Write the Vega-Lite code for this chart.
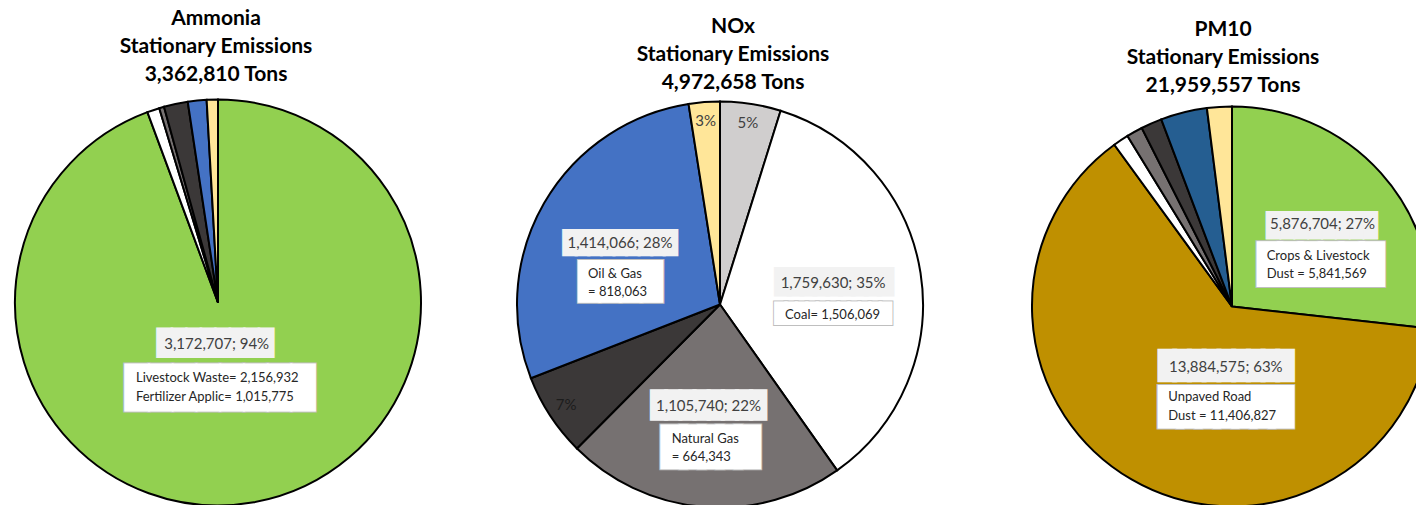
{
"$schema":"https://vega.github.io/schema/vega-lite/v6.json",
"padding":{"left":0,"top":7,"right":0,"bottom":0},
"background":"white",
"spacing":0,
"resolve":{"scale":{"theta":"independent","color":"independent"}},
"config":{"view":{"stroke":null},"title":{"font":"Lato","fontWeight":"bold","fontSize":21,"lineHeight":28,"color":"#000000","anchor":"middle"},"text":{"font":"Lato"}},
"datasets":{
"ammonia":[
{"i":1,"part":"Agriculture","value":3172707,"label":"3,172,707; 94%","desc":"Livestock Waste= 2,156,932\nFertilizer Applic= 1,015,775"},
{"i":2,"part":"Other A","value":33000},
{"i":3,"part":"Other B","value":13000},
{"i":4,"part":"Other C","value":64000},
{"i":5,"part":"Other D","value":50103},
{"i":6,"part":"Other E","value":30000}
],
"nox":[
{"i":1,"part":"Other A","value":240000,"pct":"5%"},
{"i":2,"part":"Coal","value":1759630,"label":"1,759,630; 35%","desc":"Coal= 1,506,069"},
{"i":3,"part":"Natural Gas","value":1105740,"label":"1,105,740; 22%","desc":"Natural Gas\n= 664,343"},
{"i":4,"part":"Other B","value":330000,"pct":"7%"},
{"i":5,"part":"Oil & Gas","value":1414066,"label":"1,414,066; 28%","desc":"Oil & Gas\n= 818,063"},
{"i":6,"part":"Other C","value":123222,"pct":"3%"}
],
"pm10":[
{"i":1,"part":"Crops & Livestock","value":5876704,"label":"5,876,704; 27%","desc":"Crops & Livestock\nDust = 5,841,569"},
{"i":2,"part":"Unpaved Road","value":13884575,"label":"13,884,575; 63%","desc":"Unpaved Road\nDust = 11,406,827"},
{"i":3,"part":"Other A","value":277278},
{"i":4,"part":"Other B","value":285000},
{"i":5,"part":"Other C","value":373000},
{"i":6,"part":"Other D","value":823000},
{"i":7,"part":"Other E","value":440000}
]
},
"hconcat":[
{
"width":436,"height":399,
"title":{"text":["Ammonia","Stationary Emissions","3,362,810 Tons"],"offset":10.7,"dx":-2},
"data":{"name":"ammonia"},
"encoding":{"theta":{"field":"value","type":"quantitative","stack":true},"order":{"field":"i","type":"quantitative"},"detail":{"field":"part","type":"nominal"}},
"layer":[
{"mark":{"type":"arc","outerRadius":203,"stroke":"#000000","strokeWidth":2},
 "encoding":{"color":{"field":"part","type":"nominal","legend":null,"scale":{"domain":["Agriculture","Other A","Other B","Other C","Other D","Other E"],"range":["#92d050","#ffffff","#767171","#3b3838","#4472c4","#ffe699"]}}}},
{"mark":{"type":"text","radius":40.6,"dx":-10,"dy":1.8,"font":"DejaVu Sans Mono","fontSize":24.1,"align":"center","baseline":"middle","fill":"#f2f2f2","stroke":"#f2f2f2","strokeWidth":1.95,"strokeJoin":"miter"},
 "encoding":{"text":{"condition":{"test":"datum.i === 1","value":"████████"},"value":""}}},
{"mark":{"type":"text","radius":40.6,"dx":-5,"dy":46.8,"font":"DejaVu Sans Mono","fontSize":39.43,"align":"center","baseline":"middle","fill":"#ffffff","stroke":"#bfbfbf","strokeWidth":3.1,"strokeJoin":"miter"},
 "encoding":{"text":{"condition":{"test":"datum.i === 1","value":"████████"},"value":""}}},
{"mark":{"type":"text","radius":40.6,"dx":-5,"dy":46.8,"font":"DejaVu Sans Mono","fontSize":39.43,"align":"center","baseline":"middle","fill":"#ffffff","stroke":"#ffffff","strokeWidth":1.1,"strokeJoin":"miter"},
 "encoding":{"text":{"condition":{"test":"datum.i === 1","value":"████████"},"value":""}}},
{"mark":{"type":"text","radius":40.6,"dx":-8.5,"dy":1.5,"fontSize":15,"align":"center","baseline":"middle","fill":"#404040"},
 "encoding":{"text":{"condition":{"test":"datum.i === 1","field":"label"},"value":""}}},
{"mark":{"type":"text","radius":40.6,"dx":-89.2,"dy":35.6,"fontSize":13,"lineHeight":18.5,"lineBreak":"\n","align":"left","baseline":"middle","fill":"#262626"},
 "encoding":{"text":{"condition":{"test":"datum.i === 1","field":"desc"},"value":""}}}
]
},
{
"width":568,"height":403,
"title":{"text":["NOx","Stationary Emissions","4,972,658 Tons"],"offset":5,"dx":13},
"data":{"name":"nox"},
"encoding":{"theta":{"field":"value","type":"quantitative","stack":true},"order":{"field":"i","type":"quantitative"},"detail":{"field":"part","type":"nominal"}},
"layer":[
{"mark":{"type":"arc","outerRadius":203,"stroke":"#000000","strokeWidth":2},
 "encoding":{"color":{"field":"part","type":"nominal","legend":null,"scale":{"domain":["Other A","Coal","Natural Gas","Other B","Oil & Gas","Other C"],"range":["#d0cece","#ffffff","#767171","#3b3838","#4472c4","#ffe699"]}}}},
{"mark":{"type":"text","radius":184,"fontSize":15,"align":"center","baseline":"middle"},
 "encoding":{"text":{"condition":{"test":"isValid(datum.pct)","field":"pct"},"value":""},"color":{"condition":{"test":"datum.i === 4","value":"#1c1c1c"},"value":"#404040"}}},
{"mark":{"type":"text","radius":114,"dx":1.5,"dy":-4,"font":"DejaVu Sans Mono","fontSize":21.4,"align":"center","baseline":"middle","fill":"#f2f2f2","stroke":"#f2f2f2","strokeWidth":4.1,"strokeJoin":"miter"},
 "encoding":{"text":{"condition":{"test":"datum.i === 2","value":"█████████"},"value":""}}},
{"mark":{"type":"text","radius":114,"dx":0.4,"dy":26.8,"font":"DejaVu Sans Mono","fontSize":17.41,"align":"center","baseline":"middle","fill":"#ffffff","stroke":"#bfbfbf","strokeWidth":4.74,"strokeJoin":"miter"},
 "encoding":{"text":{"condition":{"test":"datum.i === 2","value":"███████████"},"value":""}}},
{"mark":{"type":"text","radius":114,"dx":0.4,"dy":26.8,"font":"DejaVu Sans Mono","fontSize":17.41,"align":"center","baseline":"middle","fill":"#ffffff","stroke":"#ffffff","strokeWidth":2.74,"strokeJoin":"miter"},
 "encoding":{"text":{"condition":{"test":"datum.i === 2","value":"███████████"},"value":""}}},
{"mark":{"type":"text","radius":114,"dx":0.5,"dy":-4,"fontSize":15,"align":"center","baseline":"middle","fill":"#404040"},
 "encoding":{"text":{"condition":{"test":"datum.i === 2","field":"label"},"value":""}}},
{"mark":{"type":"text","radius":114,"dx":-47.6,"dy":27.7,"fontSize":13,"lineHeight":18.5,"lineBreak":"\n","align":"left","baseline":"middle","fill":"#262626"},
 "encoding":{"text":{"condition":{"test":"datum.i === 2","field":"desc"},"value":""}}},
{"mark":{"type":"text","radius":101.6,"dx":-3,"dy":0.6,"font":"DejaVu Sans Mono","fontSize":23.55,"align":"center","baseline":"middle","fill":"#f2f2f2","stroke":"#f2f2f2","strokeWidth":3.59,"strokeJoin":"miter"},
 "encoding":{"text":{"condition":{"test":"datum.i === 3","value":"████████"},"value":""}}},
{"mark":{"type":"text","radius":101.6,"dx":-1,"dy":42.4,"font":"DejaVu Sans Mono","fontSize":30.34,"align":"center","baseline":"middle","fill":"#ffffff","stroke":"#bfbfbf","strokeWidth":10.7,"strokeJoin":"miter"},
 "encoding":{"text":{"condition":{"test":"datum.i === 3","value":"█████"},"value":""}}},
{"mark":{"type":"text","radius":101.6,"dx":-1,"dy":42.4,"font":"DejaVu Sans Mono","fontSize":30.34,"align":"center","baseline":"middle","fill":"#ffffff","stroke":"#ffffff","strokeWidth":8.7,"strokeJoin":"miter"},
 "encoding":{"text":{"condition":{"test":"datum.i === 3","value":"█████"},"value":""}}},
{"mark":{"type":"text","radius":101.6,"dx":-3,"dy":0,"fontSize":15,"align":"center","baseline":"middle","fill":"#404040"},
 "encoding":{"text":{"condition":{"test":"datum.i === 3","field":"label"},"value":""}}},
{"mark":{"type":"text","radius":101.6,"dx":-39.8,"dy":32.8,"fontSize":13,"lineHeight":18.5,"lineBreak":"\n","align":"left","baseline":"middle","fill":"#262626"},
 "encoding":{"text":{"condition":{"test":"datum.i === 3","field":"desc"},"value":""}}},
{"mark":{"type":"text","radius":117.4,"dx":1.8,"dy":-2,"font":"DejaVu Sans Mono","fontSize":20.92,"align":"center","baseline":"middle","fill":"#f2f2f2","stroke":"#f2f2f2","strokeWidth":2.65,"strokeJoin":"miter"},
 "encoding":{"text":{"condition":{"test":"datum.i === 5","value":"█████████"},"value":""}}},
{"mark":{"type":"text","radius":117.4,"dx":2.3,"dy":37.1,"font":"DejaVu Sans Mono","fontSize":34.57,"align":"center","baseline":"middle","fill":"#ffffff","stroke":"#bfbfbf","strokeWidth":3.76,"strokeJoin":"miter"},
 "encoding":{"text":{"condition":{"test":"datum.i === 5","value":"████"},"value":""}}},
{"mark":{"type":"text","radius":117.4,"dx":2.3,"dy":37.1,"font":"DejaVu Sans Mono","fontSize":34.57,"align":"center","baseline":"middle","fill":"#ffffff","stroke":"#ffffff","strokeWidth":1.76,"strokeJoin":"miter"},
 "encoding":{"text":{"condition":{"test":"datum.i === 5","value":"████"},"value":""}}},
{"mark":{"type":"text","radius":117.4,"dx":1.8,"dy":-3,"fontSize":15,"align":"center","baseline":"middle","fill":"#404040"},
 "encoding":{"text":{"condition":{"test":"datum.i === 5","field":"label"},"value":""}}},
{"mark":{"type":"text","radius":117.4,"dx":-30.2,"dy":27.8,"fontSize":13,"lineHeight":18.5,"lineBreak":"\n","align":"left","baseline":"middle","fill":"#262626"},
 "encoding":{"text":{"condition":{"test":"datum.i === 5","field":"desc"},"value":""}}}
]
},
{
"width":456,"height":407,
"title":{"text":["PM10","Stationary Emissions","21,959,557 Tons"],"offset":6.7,"dx":-9},
"data":{"name":"pm10"},
"encoding":{"theta":{"field":"value","type":"quantitative","stack":true},"order":{"field":"i","type":"quantitative"},"detail":{"field":"part","type":"nominal"}},
"layer":[
{"mark":{"type":"arc","outerRadius":200,"stroke":"#000000","strokeWidth":2},
 "encoding":{"color":{"field":"part","type":"nominal","legend":null,"scale":{"domain":["Crops & Livestock","Unpaved Road","Other A","Other B","Other C","Other D","Other E"],"range":["#92d050","#bf9000","#ffffff","#767171","#3b3838","#255e91","#ffe699"]}}}},
{"mark":{"type":"text","radius":122.1,"dx":-1,"dy":0.5,"font":"DejaVu Sans Mono","fontSize":23,"align":"center","baseline":"middle","fill":"#f2f2f2","stroke":"#f2f2f2","strokeWidth":1.23,"strokeJoin":"miter"},
 "encoding":{"text":{"condition":{"test":"datum.i === 1","value":"████████"},"value":""}}},
{"mark":{"type":"text","radius":122.1,"dx":-2.2,"dy":41.3,"font":"DejaVu Sans Mono","fontSize":33.9,"align":"center","baseline":"middle","fill":"#ffffff","stroke":"#bfbfbf","strokeWidth":7.54,"strokeJoin":"miter"},
 "encoding":{"text":{"condition":{"test":"datum.i === 1","value":"██████"},"value":""}}},
{"mark":{"type":"text","radius":122.1,"dx":-2.2,"dy":41.3,"font":"DejaVu Sans Mono","fontSize":33.9,"align":"center","baseline":"middle","fill":"#ffffff","stroke":"#ffffff","strokeWidth":5.54,"strokeJoin":"miter"},
 "encoding":{"text":{"condition":{"test":"datum.i === 1","value":"██████"},"value":""}}},
{"mark":{"type":"text","radius":122.1,"dx":-0.5,"dy":-0.6,"fontSize":15,"align":"center","baseline":"middle","fill":"#404040"},
 "encoding":{"text":{"condition":{"test":"datum.i === 1","field":"label"},"value":""}}},
{"mark":{"type":"text","radius":122.1,"dx":-56.3,"dy":30.5,"fontSize":13,"lineHeight":18.5,"lineBreak":"\n","align":"left","baseline":"middle","fill":"#262626"},
 "encoding":{"text":{"condition":{"test":"datum.i === 1","field":"desc"},"value":""}}},
{"mark":{"type":"text","radius":55.7,"dx":22.3,"dy":12.2,"font":"DejaVu Sans Mono","fontSize":24.45,"align":"center","baseline":"middle","fill":"#f2f2f2","stroke":"#f2f2f2","strokeWidth":4.54,"strokeJoin":"miter"},
 "encoding":{"text":{"condition":{"test":"datum.i === 2","value":"█████████"},"value":""}}},
{"mark":{"type":"text","radius":55.7,"dx":21.8,"dy":53,"font":"DejaVu Sans Mono","fontSize":30.49,"align":"center","baseline":"middle","fill":"#ffffff","stroke":"#bfbfbf","strokeWidth":9.5,"strokeJoin":"miter"},
 "encoding":{"text":{"condition":{"test":"datum.i === 2","value":"███████"},"value":""}}},
{"mark":{"type":"text","radius":55.7,"dx":21.8,"dy":53,"font":"DejaVu Sans Mono","fontSize":30.49,"align":"center","baseline":"middle","fill":"#ffffff","stroke":"#ffffff","strokeWidth":7.5,"strokeJoin":"miter"},
 "encoding":{"text":{"condition":{"test":"datum.i === 2","value":"███████"},"value":""}}},
{"mark":{"type":"text","radius":55.7,"dx":21.8,"dy":12.6,"fontSize":15,"align":"center","baseline":"middle","fill":"#404040"},
 "encoding":{"text":{"condition":{"test":"datum.i === 2","field":"label"},"value":""}}},
{"mark":{"type":"text","radius":55.7,"dx":-35.7,"dy":42.6,"fontSize":13,"lineHeight":18.5,"lineBreak":"\n","align":"left","baseline":"middle","fill":"#262626"},
 "encoding":{"text":{"condition":{"test":"datum.i === 2","field":"desc"},"value":""}}}
]
}
]
}
